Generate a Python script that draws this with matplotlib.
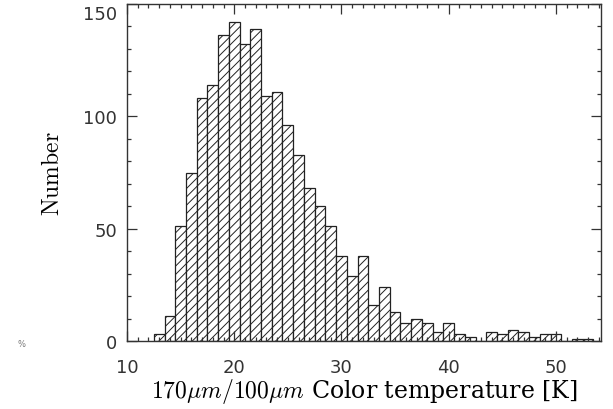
import matplotlib
matplotlib.use("Agg")
import matplotlib.pyplot as plt
from matplotlib.ticker import MultipleLocator
from matplotlib.transforms import ScaledTranslation

# Bin centres (K) and counts
temps = list(range(13, 54))
counts = [3, 11, 51, 75, 108, 114, 136, 142, 132, 139, 109, 111, 96, 83, 68,
          60, 51, 38, 29, 38, 16, 24, 13, 8, 10, 8, 4, 8, 3, 2, 0,
          4, 3, 5, 4, 2, 3, 3, 0, 1, 1]

x_ticks = [10, 20, 30, 40, 50]
y_ticks = [0, 50, 100, 150]

plt.rcParams['hatch.linewidth'] = 0.7
plt.rcParams['mathtext.fontset'] = 'cm'

fig = plt.figure(figsize=(6.13, 4.10), dpi=100)
ax = fig.add_axes([127/613, 1-342/410, (601-127)/613, (342-5)/410])

ax.bar(temps, counts, width=1.0, color='white', edgecolor='#222222',
       linewidth=0.9, hatch='////')

ax.set_xlim(10, 54.2)
ax.set_ylim(0, 150)
ax.set_xticks(x_ticks)
ax.set_yticks(y_ticks)
ax.xaxis.set_minor_locator(MultipleLocator(1))
ax.yaxis.set_minor_locator(MultipleLocator(10))
ax.tick_params(which='both', direction='in', top=True, right=True,
               color='#333333', width=0.9)
ax.tick_params(which='major', length=7)
ax.tick_params(which='minor', length=3)
ax.tick_params(axis='x', which='major', pad=12, labelsize=13, labelcolor='#333333')
ax.tick_params(axis='y', which='major', pad=7, labelsize=13, labelcolor='#333333')
for s in ax.spines.values():
    s.set_color('#333333')
    s.set_linewidth(1.0)

fig.canvas.draw()
for lab in ax.get_yticklabels():
    if lab.get_text() == '150':
        lab.set_transform(lab.get_transform() +
                          ScaledTranslation(0, -8/100, fig.dpi_scale_trans))

ax.set_xlabel(r'$170\mu m/100\mu m$ Color temperature [K]',
              fontsize=17, family='DejaVu Serif', labelpad=0)
ax.set_ylabel(r'$\mathrm{Number}$', fontsize=17, labelpad=14)

fig.text(22/613, 1-345/410, '%', fontsize=6, color='#777777', ha='center', va='center')

fig.savefig('out.png', dpi=100)
